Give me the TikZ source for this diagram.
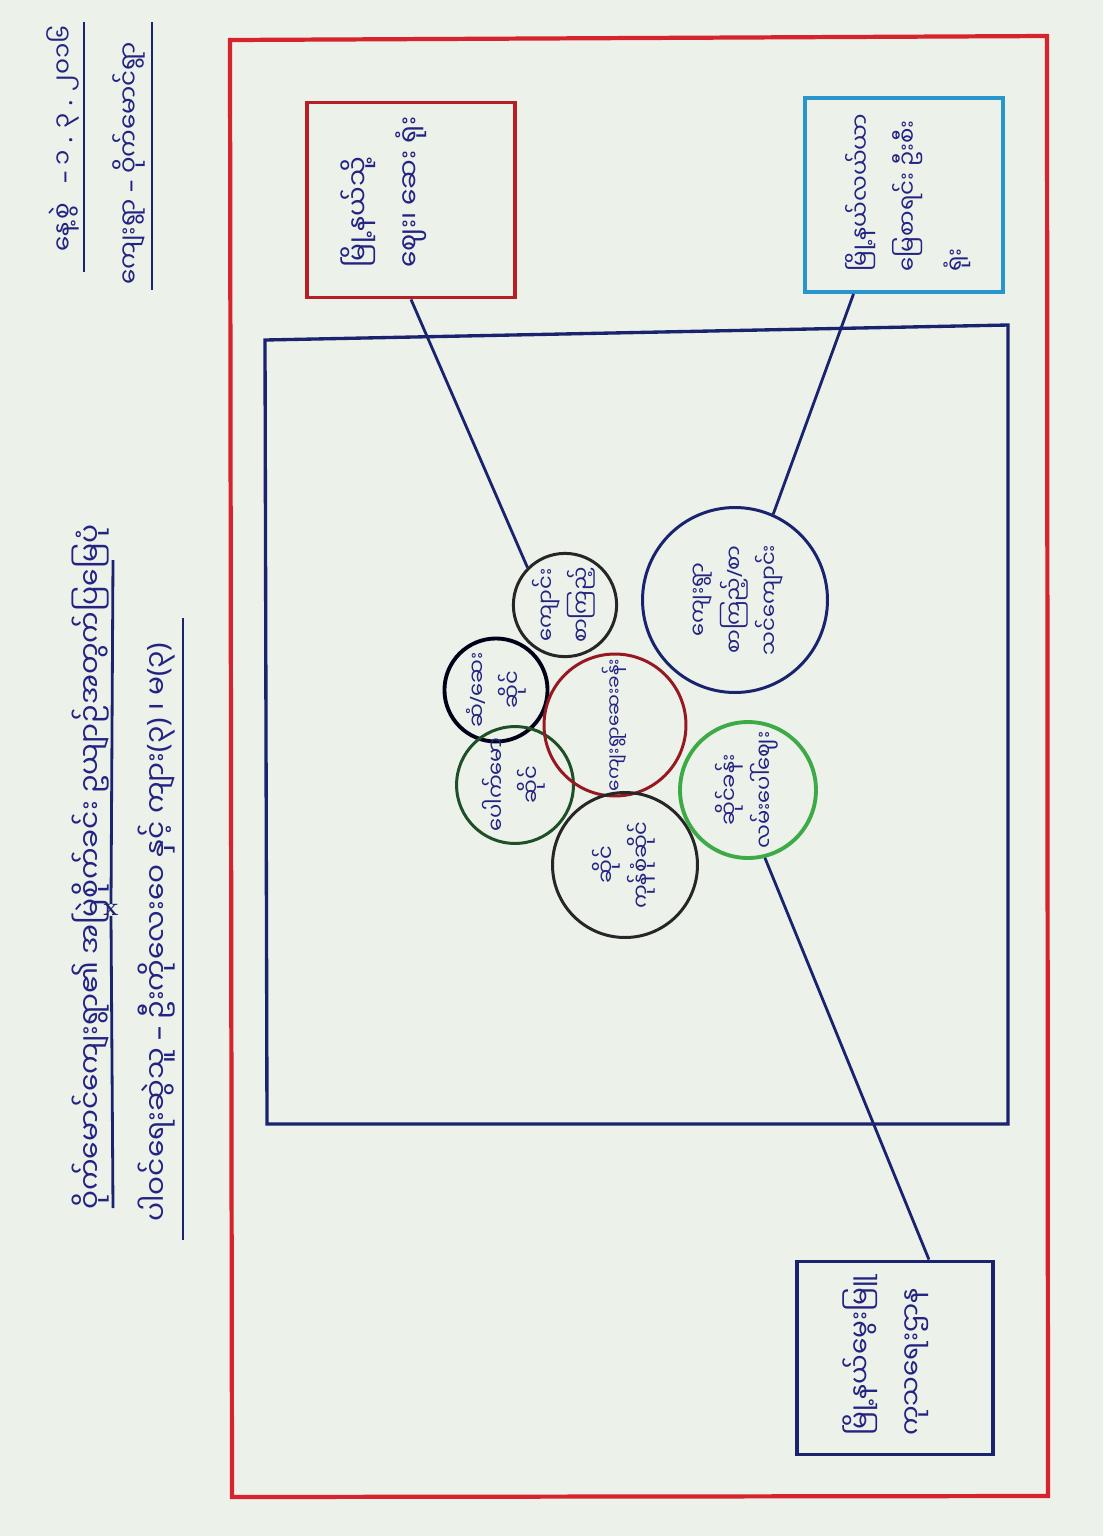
\documentclass[tikz,border=0pt]{standalone}
\usepackage{fontspec}
\usepackage{graphicx}
\usetikzlibrary{calc}
\newfontfamily\mm[Script=Myanmar]{Noto Sans Myanmar UI}
\newfontfamily\lat{Noto Sans}
\definecolor{ink}{RGB}{35,35,130}
\definecolor{paper}{RGB}{236,241,234}
\definecolor{redpen}{RGB}{215,35,45}
\definecolor{cyanpen}{RGB}{40,150,205}
\definecolor{greenpen}{RGB}{60,170,70}
\definecolor{dkgreen}{RGB}{30,80,40}
\definecolor{navy}{RGB}{25,35,110}
\newcommand{\rc}[1]{\rotatebox{90}{\begin{tabular}{@{}c@{}}#1\end{tabular}}}
\newcommand{\pt}[1]{{\lat #1}}

\tikzset{
  place/.style={circle,draw,line width=1.7pt,inner sep=0pt,text=ink,
    font=\mm\fontsize{12}{20}\selectfont},
  office/.style={draw,line width=2.2pt,inner sep=0pt},
  words/.style={rotate=90,anchor=north west,align=left,inner sep=0pt,
    text=ink,font=\mm\fontsize{15}{29}\selectfont},
  rule/.style={navy,line width=1.6pt}
}

\begin{document}
\begin{tikzpicture}[x=0.02cm,y=-0.02cm]
   \useasboundingbox (0,0) rectangle (1103,1536);
   \fill[paper] (0,0) rectangle (1103,1536);
   % heading
   \node[words,font=\mm\fontsize{16}{20}\selectfont] (title) at ( 72,1210)
     {ဝိုက်မောင်ကျေးရွာ၏ အမြဲစိုက်ခင်း ဥယျာဉ်အတွက်ပြမြေပုံ};
   \node[words,font=\mm\fontsize{16}{20}\selectfont] (drawer) at (138,1222)
     {ပါဝင်ရေးဆွဲသူ \pt{–} ဦးကိုလေးဝေ နှင့် ကျား\pt{(}၃\pt{)} ၊ မ\pt{(}၃\pt{)}};
   \node[words,font=\mm\fontsize{14}{20}\selectfont] (date) at ( 46, 252)
     {နေ့စွဲ\hspace{0.8em}\pt{–} ၁ \pt{.} ၃ \pt{.} ၂၀၁၆};
   \node[words,font=\mm\fontsize{14}{20}\selectfont] (village) at (112, 285)
     {ကျေးရွာ \pt{–} ဝိုက်မောင်ရွာ};
   \node[navy,font=\Large\bfseries,inner sep=0pt] (cross) at (111, 910) {x};
   \coordinate (t1) at (113, 560);
   \coordinate (t2) at (113,1208);
   \draw[rule] (t1) -- (cross.north);
   \draw[rule] (cross.south) -- (t2);
   \draw[rule] (183, 618) -- (183,1240);
   \draw[rule] ( 84,  22) -- ( 84, 272);
   \draw[rule] (152,  22) -- (152, 290);

   % frames
   \draw[redpen,line width=2.4pt] (230, 40) -- (1047, 36) -- (1048,1496) -- (232,1497) -- cycle;
   \draw[navy,line width=1.9pt] (265, 340) -- (1008, 325) -- (1008,1124) -- (267,1124) -- cycle;

   % offices
   \node[office,draw=redpen!85!black,minimum width=4.16cm,minimum height=3.9cm] (market) at (411,200) {};
   \node[office,draw=cyanpen,minimum width=3.96cm,minimum height=3.88cm] (landoffice) at (904,195) {};
   \node[office,draw=navy,minimum width=3.92cm,minimum height=3.86cm] (livestock) at (895,1358) {};
   \node[words] (marketTxt) at (340,268) {မြို့နယ်သို့\\ဈေး၊ ဆေး ရုံး};
   \node[words,font=\mm\fontsize{13}{27}\selectfont] (landTxt) at (845,272) {မြို့နယ်လယ်ယာ\\မြေစာရင်း ဦးစီး\\ရုံး};
   \node[words] (stockTxt) at (842,1436) {မြို့နယ်မွေးမြူ\\ကုသရေးဌာန};

   % village places
   \node[place,draw=black!85,minimum size=2.0cm] (school) at (565,605) {\rc{ကျောင်း\\စာကြည့်}};
   \node[place,draw=black!90!blue,line width=2.2pt,minimum size=1.92cm] (shopA) at (496,690) {\rc{ဆံ\pt{/}ဆေး\\ဆိုင်}};
   \node[place,draw=dkgreen,minimum size=1.88cm] (shopB) at (515,785) {\rc{ပေါက်မော\\ဆိုင်}};
   \node[place,draw=redpen!70!black,minimum size=2.84cm,font=\mm\fontsize{10.5}{18}\selectfont] (clinic) at (615,725) {\rc{ကျေးရွာဆေးခန်း}};
   \node[place,draw=black!85,minimum size=2.9cm] (store) at (625,865) {\rc{ဆိုင်\\ကုန်စုံဆိုင်}};
   \node[place,draw=navy,minimum size=3.7cm] (hall) at (735,600) {\rc{ကျေးရွာ\\စာကြည့်\pt{/}စာ\\သင်ကျောင်း}};
   \node[place,draw=greenpen,line width=2.2pt,minimum size=2.7cm] (bazaar) at (748,790) {\rc{ဆိုင်ခန်း\\လမ်းပေါ်ဈေး}};

   % links
   \draw[rule] (market.south) -- (school.135);
   \draw[rule] ($(landoffice.south west)!0.25!(landoffice.south east)$) -- (hall.66);
   \draw[rule] (bazaar.-76) -- ($(livestock.north west)!0.67!(livestock.north east)$);
\end{tikzpicture}
\end{document}
